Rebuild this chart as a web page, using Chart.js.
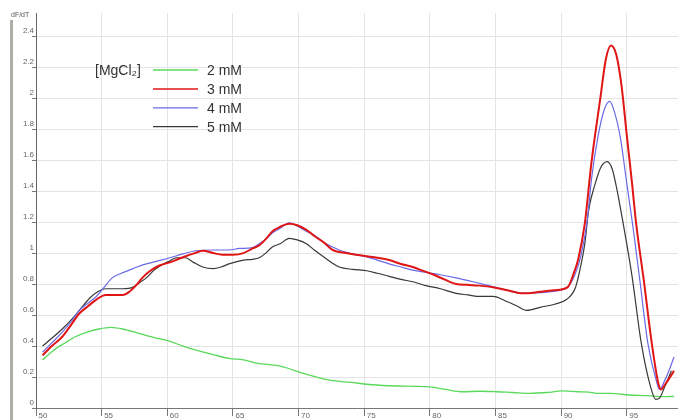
<!DOCTYPE html>
<html>
<head>
<meta charset="utf-8">
<title>dF/dT melt curves</title>
<script src="https://cdn.jsdelivr.net/npm/chart.js@4.4.1/dist/chart.umd.min.js"></script>
<style>
  html, body { margin: 0; padding: 0; background: #fff; }
  canvas { display: block; }
</style>
</head>
<body>
<canvas id="meltChart" width="678" height="420"></canvas>
<script>
// melt curve derivative, one pair of arrays per MgCl2 concentration

const seriesLabels = ['2 mM', '3 mM', '4 mM', '5 mM'];
const legendTitle = '[MgCl\u2082]';
const yAxisUnit = 'dF/dT';

const temp2mM = [50.5, 51.3, 52.2, 53.0, 53.9, 54.8, 55.7, 56.6, 57.9, 59.0, 60.2, 61.2, 62.2, 63.5,
  64.7, 65.8, 66.8, 68.6, 70.5, 72.4, 74.0, 75.6, 77.5, 78.8, 80.0, 81.2, 82.5, 83.8, 85.1, 86.3,
  87.6, 88.9, 90.1, 91.3, 92.1, 92.7, 93.8, 95.2, 96.6, 97.8, 98.6];
const dfdt2mM = [0.31, 0.37, 0.42, 0.46, 0.49, 0.51, 0.52, 0.51, 0.48, 0.455, 0.43, 0.40, 0.374, 0.345,
  0.32, 0.31, 0.29, 0.27, 0.22, 0.18, 0.165, 0.15, 0.142, 0.14, 0.137, 0.12, 0.105, 0.108, 0.105, 0.10,
  0.095, 0.10, 0.11, 0.105, 0.103, 0.095, 0.094, 0.084, 0.08, 0.073, 0.075];

const temp3mM = [50.5, 51.2, 52.0, 52.7, 53.3, 54.0, 54.6, 55.3, 56.0, 56.6, 57.1, 57.6, 58.1, 58.6,
  59.4, 60.2, 60.8, 61.4, 62.1, 62.7, 63.5, 64.2, 65.0, 65.8, 66.5, 67.0, 67.5, 68.0, 68.6, 69.3,
  69.9, 70.6, 71.2, 71.9, 72.6, 73.6, 74.4, 75.2, 76.0, 76.9, 77.8, 78.7, 79.5, 80.3, 81.1, 82.0,
  82.9, 83.8, 84.8, 85.9, 87.1, 88.4, 89.5, 90.5, 91.0, 91.3, 91.8, 92.3, 93.0, 93.4, 93.8, 94.2,
  94.6, 95.0, 95.4, 95.7, 96.3, 96.9, 97.4, 97.6, 97.9, 98.3, 98.6];
const dfdt3mM = [0.34, 0.40, 0.46, 0.54, 0.61, 0.66, 0.70, 0.73, 0.73, 0.73, 0.75, 0.79, 0.84, 0.88,
  0.92, 0.94, 0.96, 0.98, 1.00, 1.015, 1.00, 0.99, 0.99, 1.00, 1.03, 1.05, 1.09, 1.14, 1.17, 1.19,
  1.18, 1.15, 1.11, 1.07, 1.02, 1.00, 0.99, 0.98, 0.97, 0.955, 0.93, 0.91, 0.885, 0.86, 0.83, 0.80,
  0.795, 0.79, 0.78, 0.76, 0.74, 0.75, 0.76, 0.78, 0.88, 0.96, 1.19, 1.58, 2.01, 2.25, 2.34, 2.28,
  2.08, 1.76, 1.45, 1.20, 0.82, 0.42, 0.16, 0.12, 0.15, 0.20, 0.24];

const temp4mM = [50.5, 51.2, 52.0, 52.7, 53.3, 54.0, 54.6, 55.2, 55.8, 56.5, 57.1, 57.7, 58.4, 59.3,
  60.2, 61.2, 62.2, 63.4, 64.7, 65.5, 66.5, 67.0, 67.5, 68.0, 68.6, 69.3, 70.0, 70.6, 71.1, 72.1,
  73.1, 74.1, 75.2, 76.0, 76.9, 77.8, 78.7, 79.7, 80.8, 82.0, 83.3, 84.5, 85.9, 87.1, 88.4, 89.9,
  90.5, 91.0, 91.5, 92.0, 92.3, 92.8, 93.3, 93.7, 94.1, 94.5, 95.0, 95.5, 96.0, 96.6, 97.3, 97.5,
  97.9, 98.3, 98.6];
const dfdt4mM = [0.36, 0.42, 0.49, 0.56, 0.63, 0.68, 0.72, 0.78, 0.84, 0.87, 0.89, 0.91, 0.93, 0.95,
  0.97, 0.995, 1.015, 1.02, 1.02, 1.03, 1.035, 1.06, 1.09, 1.13, 1.16, 1.195, 1.17, 1.14, 1.12, 1.06,
  1.02, 0.995, 0.976, 0.955, 0.93, 0.91, 0.89, 0.875, 0.86, 0.84, 0.815, 0.79, 0.76, 0.74, 0.745, 0.76,
  0.78, 0.85, 0.98, 1.22, 1.47, 1.75, 1.93, 1.98, 1.90, 1.75, 1.45, 1.15, 0.82, 0.42, 0.16, 0.12,
  0.18, 0.26, 0.33];

const temp5mM = [50.5, 51.2, 52.0, 52.7, 53.3, 54.1, 54.7, 55.3, 56.0, 56.6, 57.4, 57.9, 58.4, 59.0,
  59.7, 60.2, 60.7, 61.4, 62.0, 62.7, 63.5, 64.1, 64.7, 65.8, 66.5, 67.0, 67.5, 68.0, 68.6, 69.3,
  69.9, 70.6, 71.2, 71.9, 72.5, 73.1, 74.1, 75.2, 76.0, 76.9, 77.8, 78.7, 79.7, 80.8, 82.0, 82.9,
  83.8, 84.8, 85.9, 86.6, 87.4, 88.4, 89.5, 90.4, 91.1, 91.5, 91.8, 92.1, 92.6, 93.0, 93.5, 93.9,
  94.2, 94.6, 95.4, 96.1, 96.8, 97.2, 97.5, 97.9, 98.4];
const dfdt5mM = [0.40, 0.45, 0.51, 0.57, 0.63, 0.71, 0.75, 0.77, 0.77, 0.77, 0.78, 0.81, 0.84, 0.89,
  0.93, 0.95, 0.97, 0.97, 0.94, 0.91, 0.90, 0.91, 0.93, 0.955, 0.96, 0.97, 1.00, 1.04, 1.06, 1.095,
  1.085, 1.06, 1.02, 0.976, 0.94, 0.91, 0.895, 0.886, 0.87, 0.85, 0.83, 0.815, 0.79, 0.77, 0.74, 0.73,
  0.72, 0.72, 0.686, 0.66, 0.63, 0.65, 0.67, 0.70, 0.78, 0.92, 1.06, 1.28, 1.45, 1.55, 1.59, 1.54,
  1.43, 1.25, 0.85, 0.42, 0.14, 0.056, 0.065, 0.14, 0.24];

const toPoints = (xs, ys) => xs.map((x, i) => ({ x: x, y: ys[i] }));

// legend drawn beside the plot like the instrument software does it
const sideLegend = {
  id: 'sideLegend',
  afterDraw(chart) {
    const ctx = chart.ctx;
    ctx.save();
    // left frame strip + unit label
    ctx.fillStyle = '#aeaea6';
    ctx.fillRect(10, 20, 3, 400);
    ctx.fillStyle = '#555';
    ctx.font = '7px "Liberation Sans", Arial, sans-serif';
    ctx.textBaseline = 'top';
    ctx.fillText(yAxisUnit, 11, 12);

    ctx.font = '14px "Liberation Sans", Arial, sans-serif';
    ctx.textBaseline = 'middle';
    ctx.fillStyle = '#333';
    ctx.fillText(legendTitle, 95, 71);
    chart.data.datasets.forEach((ds, i) => {
      const y = 70 + i * 18.9;
      ctx.strokeStyle = ds.borderColor;
      ctx.lineWidth = Math.min(ds.borderWidth, 1.5);
      ctx.beginPath();
      ctx.moveTo(153, y);
      ctx.lineTo(198, y);
      ctx.stroke();
      ctx.fillStyle = '#333';
      ctx.fillText(ds.label, 207, y + 1);
    });
    ctx.restore();
  }
};

const ctx = document.getElementById('meltChart').getContext('2d');

new Chart(ctx, {
  type: 'line',
  data: {
    datasets: [
      { label: seriesLabels[0], data: toPoints(temp2mM, dfdt2mM), borderColor: '#5ad85a', borderWidth: 1.3, order: 3 },
      { label: seriesLabels[1], data: toPoints(temp3mM, dfdt3mM), borderColor: '#e01515', borderWidth: 2, order: 0 },
      { label: seriesLabels[2], data: toPoints(temp4mM, dfdt4mM), borderColor: '#6a6ae8', borderWidth: 1.2, order: 1 },
      { label: seriesLabels[3], data: toPoints(temp5mM, dfdt5mM), borderColor: '#383838', borderWidth: 1.2, order: 2 }
    ]
  },
  options: {
    responsive: false,
    animation: false,
    events: [],
    layout: { padding: { top: 13, right: 0, bottom: 0, left: 0 } },
    elements: {
      point: { radius: 0 },
      line: { cubicInterpolationMode: 'monotone', fill: false }
    },
    scales: {
      x: {
        type: 'linear',
        min: 50,
        max: 98.9,
        afterFit: s => { s.height = 12; },
        border: { color: '#777', width: 1 },
        grid: { color: '#e4e4e4', tickColor: '#777', tickLength: 8 },
        ticks: {
          stepSize: 5,
          includeBounds: false,
          autoSkip: false,
          maxRotation: 0,
          align: 'start',
          labelOffset: 2.5,
          padding: -5,
          color: '#666',
          font: { family: '"Liberation Sans", Arial, sans-serif', size: 8 }
        }
      },
      y: {
        min: 0,
        max: 2.55,
        afterFit: s => { s.width = 36; },
        border: { color: '#666', width: 1 },
        grid: { color: '#e4e4e4', tickColor: '#777', tickLength: 4 },
        ticks: {
          stepSize: 0.2,
          includeBounds: false,
          labelOffset: -5,
          padding: -2,
          color: '#666',
          font: { family: '"Liberation Sans", Arial, sans-serif', size: 8 },
          callback: v => String(Math.round(v * 10) / 10)
        }
      }
    },
    plugins: {
      legend: { display: false },
      tooltip: { enabled: false }
    }
  },
  plugins: [sideLegend]
});
</script>
</body>
</html>
